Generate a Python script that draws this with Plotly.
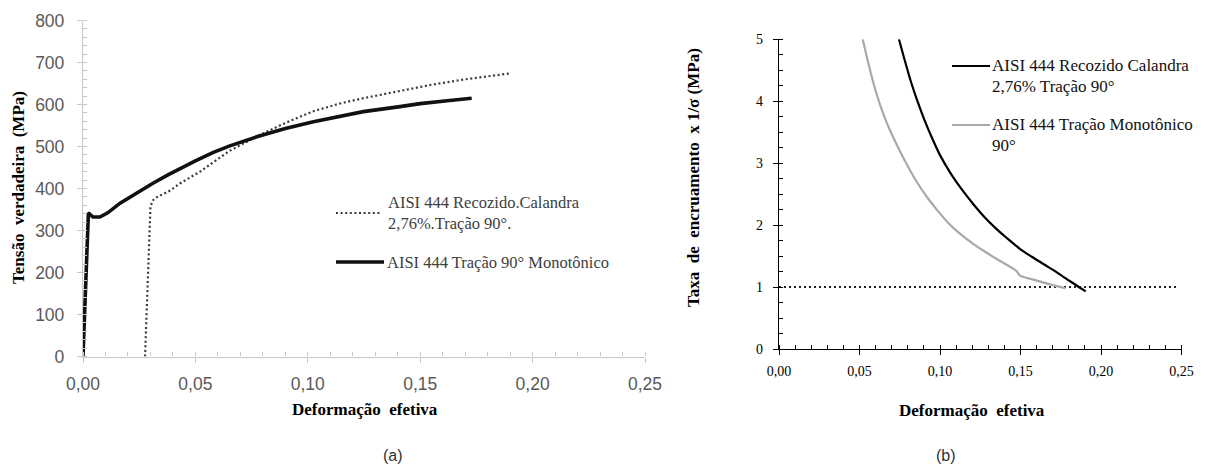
import plotly.graph_objects as go

W, H = 1205, 468

# ---- (a) true stress vs effective strain ----
strain_mono = [0.0000, 0.0012, 0.0020, 0.0024, 0.0032, 0.0045, 0.0075, 0.0110, 0.0165,
               0.0240, 0.0313, 0.0380, 0.0431, 0.0500, 0.0580, 0.0650, 0.0773, 0.0900,
               0.1025, 0.1140, 0.1247, 0.1410, 0.1500, 0.1620, 0.1729]
stress_mono = [0, 180, 310, 342, 338, 332, 332, 342, 365,
               390, 413, 433, 448, 466, 486, 501, 523, 543,
               559, 572, 583, 595, 602, 609, 615]

strain_cal = [0.0276, 0.0283, 0.0290, 0.0296, 0.0300, 0.0308, 0.0320, 0.0387, 0.0431,
              0.0520, 0.0580, 0.0650, 0.0773, 0.0900, 0.1025, 0.1140, 0.1247, 0.1410,
              0.1550, 0.1700, 0.1900]
stress_cal = [0, 100, 220, 320, 355, 370, 377, 395, 412,
              440, 463, 489, 524, 556, 584, 602, 615, 632,
              647, 660, 674]

# ---- (b) work-hardening rate x 1/sigma ----
strain_b_cal = [0.0745, 0.0780, 0.0820, 0.0860, 0.0900, 0.0950, 0.1000, 0.1070, 0.1140,
                0.1210, 0.1280, 0.1350, 0.1420, 0.1500, 0.1570, 0.1650, 0.1730, 0.1810,
                0.1905]
rate_b_cal = [5.00, 4.67, 4.31, 4.00, 3.72, 3.41, 3.13, 2.82, 2.56,
              2.33, 2.12, 1.94, 1.78, 1.61, 1.49, 1.36, 1.23, 1.09,
              0.93]

strain_b_mono = [0.0520, 0.0560, 0.0600, 0.0650, 0.0700, 0.0750, 0.0800, 0.0860, 0.0920,
                 0.0980, 0.1050, 0.1120, 0.1200, 0.1280, 0.1360, 0.1475, 0.1495, 0.1580,
                 0.1690, 0.1780]
rate_b_mono = [5.00, 4.56, 4.17, 3.78, 3.47, 3.20, 2.95, 2.68, 2.45,
               2.25, 2.04, 1.87, 1.71, 1.57, 1.44, 1.26, 1.19, 1.12,
               1.04, 0.98]

ref_strain = [0.0, 0.248]
ref_rate = [1.0, 1.0]

x_ticks = [0.00, 0.05, 0.10, 0.15, 0.20, 0.25]

SERIF = "Liberation Serif, Times New Roman, serif"
SANS = "Liberation Sans, Arial, sans-serif"

fig = go.Figure()

fig.add_trace(go.Scatter(x=strain_cal, y=stress_cal, mode="lines",
                         line=dict(color="#3a3a3a", width=2.2, dash="2px,2.6px"),
                         xaxis="x", yaxis="y", showlegend=False))
fig.add_trace(go.Scatter(x=strain_mono, y=stress_mono, mode="lines",
                         line=dict(color="#111111", width=3.6),
                         xaxis="x", yaxis="y", showlegend=False))

fig.add_trace(go.Scatter(x=ref_strain, y=ref_rate, mode="lines",
                         line=dict(color="#222222", width=2, dash="2px,3px"),
                         xaxis="x2", yaxis="y2", showlegend=False))
fig.add_trace(go.Scatter(x=strain_b_mono, y=rate_b_mono, mode="lines",
                         line=dict(color="#a9a9a9", width=2.2, shape="spline", smoothing=0.8),
                         xaxis="x2", yaxis="y2", showlegend=False))
fig.add_trace(go.Scatter(x=strain_b_cal, y=rate_b_cal, mode="lines",
                         line=dict(color="#000000", width=2.2, shape="spline", smoothing=0.8),
                         xaxis="x2", yaxis="y2", showlegend=False))


def px_x(p):
    return p / W


def px_y(p):
    return 1 - p / H


grey_axis = "#c8c8c8"
left_tick_font = dict(family=SANS, size=17.5, color="#595959")
right_tick_font = dict(family=SERIF, size=14, color="#000000")

common = dict(showgrid=False, zeroline=False, automargin=False)

fig.update_layout(
    width=W, height=H,
    margin=dict(l=0, r=0, t=0, b=0, pad=0),
    paper_bgcolor="white", plot_bgcolor="white",
    separators=", ",
    xaxis=dict(domain=[px_x(83), px_x(645)], range=[0, 0.25],
               tickvals=x_ticks, tickformat=".2f",
               showline=True, linecolor=grey_axis, linewidth=1.3,
               ticks="outside", ticklen=5, tickcolor=grey_axis, tickwidth=1.3,
               tickfont=left_tick_font, ticklabelstandoff=6,
               minor=dict(dtick=0.01, ticks="inside", ticklen=4,
                          tickcolor=grey_axis, showgrid=False),
               anchor="y", **common),
    yaxis=dict(domain=[px_y(356.5), px_y(20.5)], range=[0, 800],
               dtick=100, showline=True, linecolor=grey_axis, linewidth=1.3,
               ticks="outside", ticklen=5, tickcolor=grey_axis, tickwidth=1.3,
               tickfont=left_tick_font, ticklabelstandoff=9,
               minor=dict(dtick=20, ticks="inside", ticklen=4,
                          tickcolor=grey_axis, showgrid=False),
               anchor="x", **common),
    xaxis2=dict(domain=[px_x(779), px_x(1181.5)], range=[0, 0.25],
                tickvals=x_ticks, tickformat=".2f",
                showline=True, linecolor="#000000", linewidth=1.3,
                ticks="outside", ticklen=5, tickcolor="#000000", tickwidth=1.3,
                tickfont=right_tick_font, ticklabelstandoff=4,
                minor=dict(dtick=0.01, ticks="inside", ticklen=4,
                           tickcolor="#000000", showgrid=False),
                anchor="y2", **common),
    yaxis2=dict(domain=[px_y(349), px_y(39.3)], range=[0, 5],
                dtick=1, showline=True, linecolor="#000000", linewidth=1.3,
                ticks="outside", ticklen=5, tickcolor="#000000", tickwidth=1.3,
                tickfont=right_tick_font, ticklabelstandoff=7,
                minor=dict(dtick=0.25, ticks="inside", ticklen=4,
                           tickcolor="#000000", showgrid=False),
                anchor="x2", **common),
)

title_font = dict(family=SERIF, size=17, color="#000000")
legend_font_l = dict(family=SERIF, size=16.5, color="#404040")
legend_font_r = dict(family=SERIF, size=17, color="#111111")

annotations = [
    # axis titles
    dict(text="<b>Tensão  verdadeira  (MPa)</b>", x=px_x(18), y=px_y(188),
         textangle=-90, font=title_font),
    dict(text="<b>Deformação  efetiva</b>", x=px_x(365), y=px_y(409), font=title_font),
    dict(text="<b>Taxa  de  encruamento  x 1/σ (MPa)</b>", x=px_x(693), y=px_y(178),
         textangle=-90, font=title_font),
    dict(text="<b>Deformação  efetiva</b>", x=px_x(972), y=px_y(410), font=title_font),
    # panel labels
    dict(text="(a)", x=px_x(393), y=px_y(455),
         font=dict(family=SANS, size=16, color="#333333")),
    dict(text="(b)", x=px_x(946), y=px_y(455),
         font=dict(family=SANS, size=16, color="#333333")),
    # legend (a)
    dict(text="AISI 444 Recozido.Calandra<br>2,76%.Tração 90°.", x=px_x(386), y=px_y(213),
         xanchor="left", align="left", font=legend_font_l),
    dict(text="AISI 444 Tração 90° Monotônico", x=px_x(385), y=px_y(262),
         xanchor="left", font=legend_font_l),
    # legend (b)
    dict(text="AISI 444 Recozido Calandra", x=px_x(990), y=px_y(66),
         xanchor="left", font=legend_font_r),
    dict(text="2,76% Tração 90°", x=px_x(990), y=px_y(86),
         xanchor="left", font=legend_font_r),
    dict(text="AISI 444 Tração Monotônico", x=px_x(990), y=px_y(125),
         xanchor="left", font=legend_font_r),
    dict(text="90°", x=px_x(990), y=px_y(145),
         xanchor="left", font=legend_font_r),
]
for a in annotations:
    a.setdefault("xanchor", "center")
    a.update(xref="paper", yref="paper", yanchor="middle", showarrow=False)
fig.update_layout(annotations=annotations)

# legend key lines
shapes = [
    dict(x0=px_x(336), x1=px_x(382), y0=px_y(213), y1=px_y(213),
         line=dict(color="#3a3a3a", width=2.2, dash="2px,2.6px")),
    dict(x0=px_x(336), x1=px_x(384), y0=px_y(262), y1=px_y(262),
         line=dict(color="#111111", width=3.6)),
    dict(x0=px_x(952), x1=px_x(990), y0=px_y(66), y1=px_y(66),
         line=dict(color="#000000", width=2.2)),
    dict(x0=px_x(952), x1=px_x(990), y0=px_y(125), y1=px_y(125),
         line=dict(color="#a9a9a9", width=2.2)),
]
for s in shapes:
    s.update(type="line", xref="paper", yref="paper")
fig.update_layout(shapes=shapes)

fig.write_html("out.html")
